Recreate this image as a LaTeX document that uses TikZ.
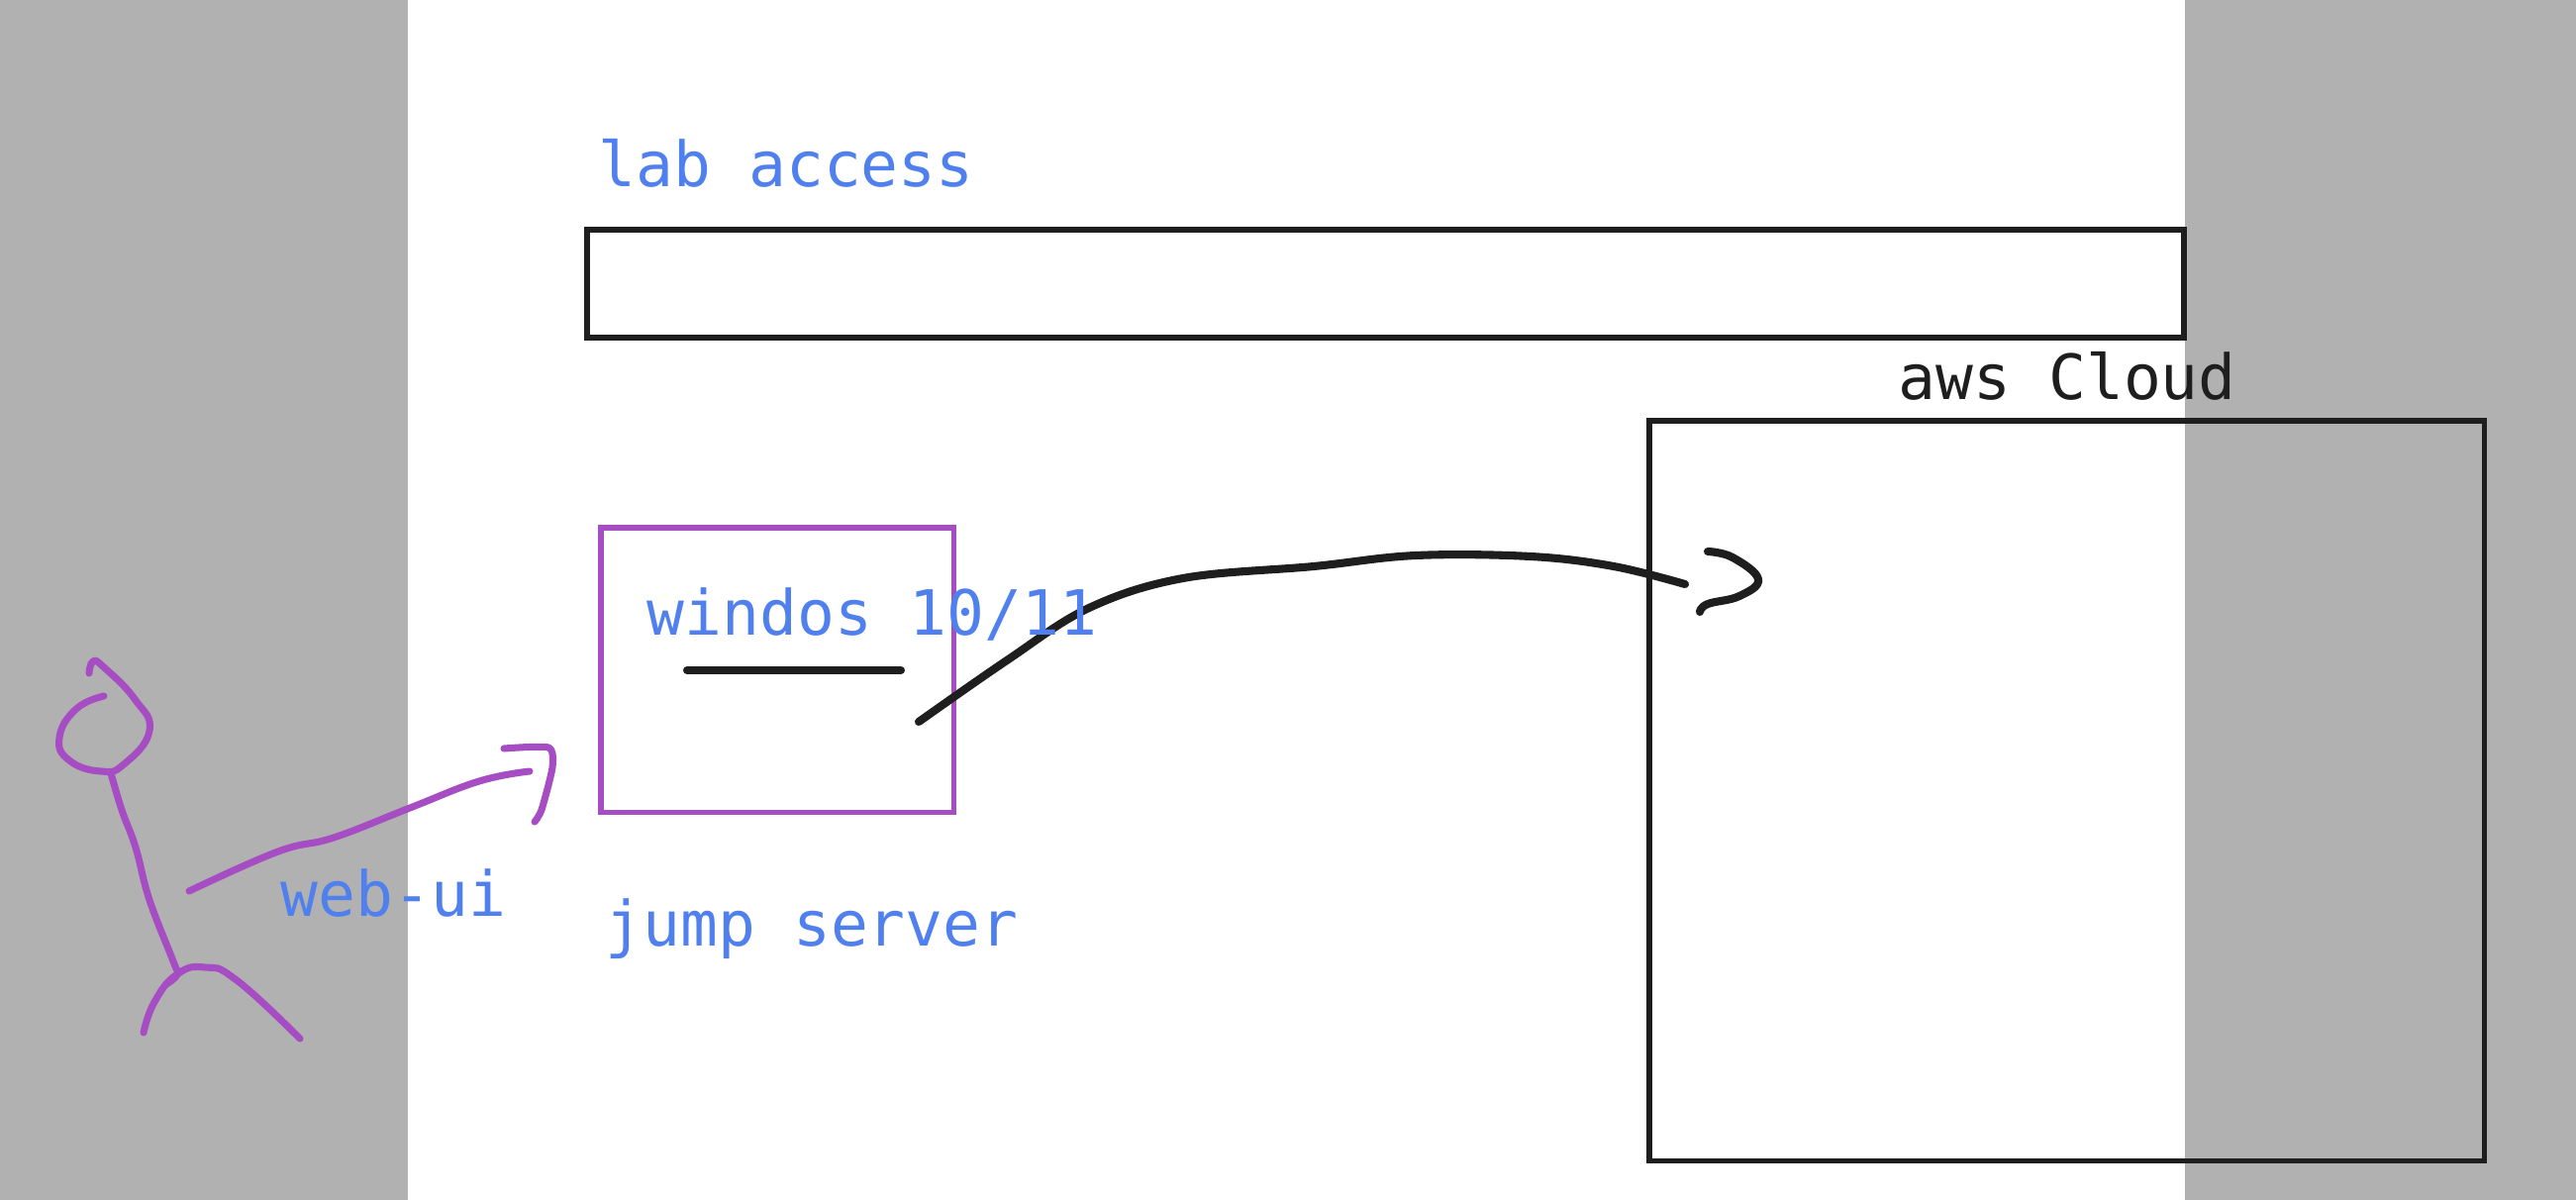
\documentclass[tikz,border=0pt]{standalone}
\usepackage{fontspec}
\setmonofont{DejaVu Sans Mono}
\definecolor{sidegray}{HTML}{B1B1B1}
\definecolor{inkblack}{HTML}{1E1E1E}
\definecolor{inkpurple}{HTML}{A64DC4}
\definecolor{inkblue}{HTML}{5080EE}
\tikzset{
  blacktext/.style={anchor=base west, inner sep=0pt, font=\ttfamily\fontsize{17.9}{20}\selectfont, text=inkblack},
  bluetext/.style={blacktext, text=inkblue},
  blackbox/.style={draw=inkblack, line width=1.5pt, anchor=north west, inner sep=0pt, outer sep=0pt},
  purplebox/.style={blackbox, draw=inkpurple},
  blackstroke/.style={draw=inkblack, line width=2.3pt, line cap=round, line join=round},
  purplestroke/.style={draw=inkpurple, line width=2pt, line cap=round, line join=round}
}
\begin{document}
\begin{tikzpicture}[x=0.01cm, y=-0.01cm]
    \useasboundingbox (0,0) rectangle (2602,1212);

    % Grey side bands
    \fill[sidegray] (0,0) rectangle (412,1212);
    \fill[sidegray] (2207,0) rectangle (2602,1212);

    % Boxes
    \node[blackbox, minimum width=16.12cm, minimum height=1.09cm] (labbox) at (593,232) {};
    \node[blackbox, minimum width=8.43cm, minimum height=7.47cm] (awsbox) at (1666,425) {};
    \node[purplebox, minimum width=3.56cm, minimum height=2.87cm] (jumpbox) at (607,533) {};

    % Ends of the hand drawn strokes
    \coordinate (userhand) at (191,900);
    \coordinate (webtip) at (535,779);
    \coordinate (jumpout) at (928,729);
    \coordinate (awstip) at (1702,590);

    % Stick figure
    \draw[purplestroke] plot[smooth, tension=0.8] coordinates {(105,703) (77,716) (60,745) (70,768) (102,779) (125,772) (151,738) (136,706) (105,674) (94,668) (90,680)};
    \draw[purplestroke] plot[smooth, tension=0.7] coordinates {(112,781) (123,818) (137,856) (151,909) (175,971) (179,984) (168,994)};
    \draw[purplestroke] plot[smooth, tension=0.8] coordinates {(145,1043) (156,1012) (179,984) (207,977) (239,990) (303,1049)};

    % Arrow towards the jump server
    \draw[purplestroke] plot[smooth, tension=0.7] coordinates {(userhand) (281,860) (337,846) (414,816) (484,789) (webtip)};
    \draw[purplestroke] plot[smooth, tension=0.4] coordinates {(509,756) (554,755) (558,775) (547,818) (540,830)};

    % Underline and arrow towards the cloud
    \draw[blackstroke] (694,677) -- (910,677);
    \draw[blackstroke] plot[smooth, tension=0.6] coordinates {(jumpout) (1017,667) (1100,614) (1195,584) (1327,572) (1430,561) (1546,562) (1630,572) (awstip)};
    \draw[blackstroke] plot[smooth, tension=0.7] coordinates {(1725,557) (1750,563) (1776,585) (1757,602) (1725,610) (1717,618)};

    % Labels
    \node[bluetext] (lablabel) at (604,188) {lab access};
    \node[blacktext] (awslabel) at (1917,403) {aws Cloud};
    \node[bluetext] (winlabel) at (653,641) {windos 10/11};
    \node[bluetext] (weblabel) at (283,925) {web-ui};
    \node[bluetext] (jumplabel) at (611,955) {jump server};
\end{tikzpicture}
\end{document}
